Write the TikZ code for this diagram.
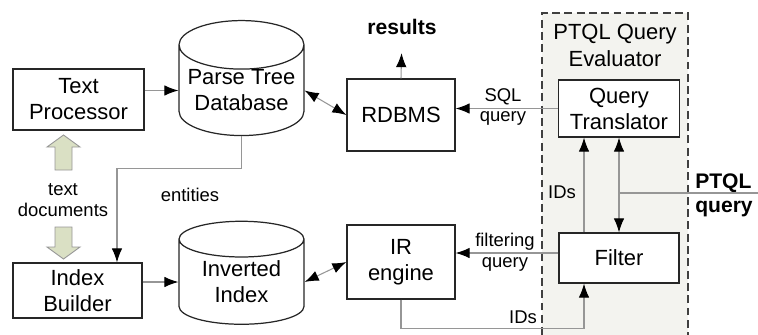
\documentclass[tikz,border=0pt]{standalone}
\usepackage{fontspec}
\setmainfont{Liberation Sans}
\usetikzlibrary{shapes.geometric, arrows.meta, positioning, calc}
\definecolor{linegray}{RGB}{150,150,150}
\definecolor{docgreen}{RGB}{218,224,196}
\definecolor{evalgray}{RGB}{243,243,239}

\tikzset{
    block/.style={draw=black!85, line width=0.7pt, fill=white, align=center,
        font=\fontsize{12.5}{14.8}\selectfont, inner sep=0pt},
    store/.style={block, cylinder, shape border rotate=90, aspect=0.45},
    flow/.style={draw=linegray, line width=0.6pt, -{Latex[length=8pt,width=6pt,black]}},
    twoway/.style={draw=linegray, line width=0.6pt,
        {Latex[length=8pt,width=6pt,black]}-{Latex[length=8pt,width=6pt,black]}},
    plainline/.style={draw=linegray, line width=0.6pt},
    note/.style={align=center, font=\fontsize{10.5}{11.7}\selectfont, inner sep=0pt},
    bignote/.style={align=center, font=\fontsize{12}{13.7}\selectfont\bfseries, inner sep=0pt},
    docarrow/.style={fill=docgreen, draw=linegray, line width=0.5pt},
    evalframe/.style={draw=black!75, line width=0.8pt, dash pattern=on 4.5pt off 2.5pt}
}

\begin{document}
\begin{tikzpicture}[x=0.02cm, y=-0.02cm]
\useasboundingbox (0,0) rectangle (758,335);

% Query evaluator frame
\fill[evalgray] (542,13) rectangle (688,335);
\draw[evalframe] (542,335) -- (542,13) -- (688,13) -- (688,335);
\node[block, draw=none, fill=none, font=\fontsize{12.5}{15.4}\selectfont] (evaltitle) at (615,45) {PTQL Query\\Evaluator};

% Components
\node[block, minimum width=2.62cm, minimum height=1.22cm] (tp) at (78.5,99.5) {Text\\Processor};
\node[block, minimum width=2.58cm, minimum height=1.1cm] (ib) at (77.5,290.5) {Index\\Builder};
\node[store, minimum width=2.5cm, minimum height=2.3cm] (ptdb) at (241.5,90.5) {Parse Tree\\Database};
\node[store, minimum width=2.5cm, minimum height=2.06cm] (ii) at (241.5,282) {Inverted\\Index};
\node[block, minimum width=2.16cm, minimum height=1.44cm] (rdbms) at (401,115) {RDBMS};
\node[block, minimum width=2.16cm, minimum height=1.48cm] (ir) at (401,262) {IR\\engine};
\node[block, minimum width=2.42cm, minimum height=1.14cm] (qt) at (619,108.5) {Query\\Translator};
\node[block, minimum width=2.4cm, minimum height=1.0cm] (filter) at (619,258) {Filter};

% Labels
\node[bignote] (results) at (402,27) {results};
\node[bignote, align=left] (ptql) at (724,195) {PTQL\\query};
\node[note] (textdocs) at (63,200) {text\\documents};
\node[note] (entlbl) at (190,195) {entities};
\node[note] (sqllbl) at (503,107) {SQL\\query};
\node[note] (filtlbl) at (505,252) {filtering\\query};
\node[note] (idsup) at (562,192) {IDs};
\node[note] (idsbot) at (523,317) {IDs};
\coordinate (ptqlin) at (758,193);

% Document arrows
\draw[docarrow] (63.5,135) -- (80,147) -- (72,147) -- (72,170) -- (55,170) -- (55,147) -- (47,147) -- cycle;
\draw[docarrow] (55,227) -- (72,227) -- (72,247) -- (80,247) -- (63.5,259) -- (47,247) -- (55,247) -- cycle;

% Connectors
\draw[flow] (tp.east |- ptdb.west) -- (ptdb.west);
\draw[flow] (ib.east |- ii.west) -- (ii.west);
\draw[twoway] (ptdb.east) -- (rdbms.west);
\draw[twoway] (ii.east) -- (ir.west);
\draw[flow, shorten >=0.36cm] (rdbms.north) -- (results.south);
\draw[flow] (ptdb.south) -- ++(0,32) -| ([xshift=0.79cm]ib.north);
\draw[flow] (qt.west) -- (qt.west -| rdbms.east);
\draw[flow] ([yshift=0.1cm]filter.west) -- ([yshift=0.1cm]filter.west -| ir.east);
\draw[flow] ([xshift=-0.7cm]filter.north) -- ([xshift=-0.7cm]filter.north |- qt.south);
\draw[plainline] (ptqlin) -- (ptqlin -| qt.south);
\draw[twoway] (qt.south) -- (filter.north);
\draw[flow] (ir.south) -- ++(0,29) -| ([xshift=-0.7cm]filter.south);

\end{tikzpicture}
\end{document}
